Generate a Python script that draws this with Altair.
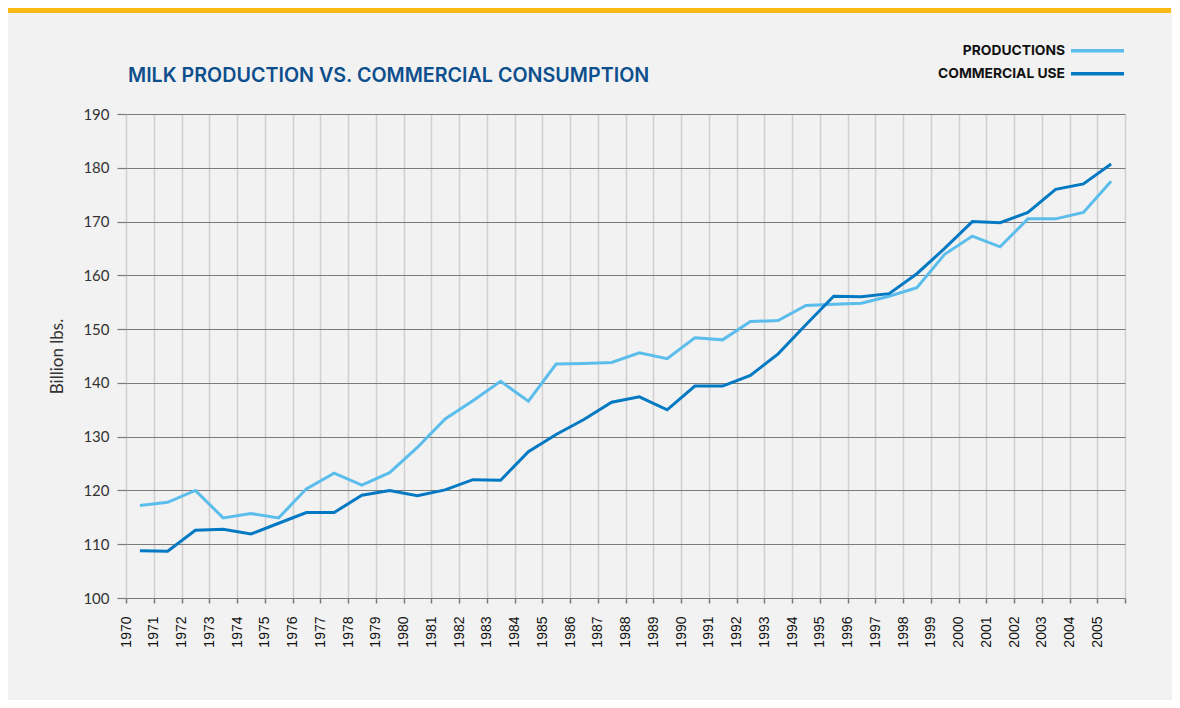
import altair as alt
import pandas as pd

years = list(range(1970, 2006))
productions = [117.2, 117.8, 120.0, 114.9, 115.7, 114.9, 120.3, 123.2, 121.0, 123.3,
               128.0, 133.3, 136.7, 140.3, 136.6, 143.5, 143.6, 143.8, 145.6, 144.5,
               148.4, 148.0, 151.4, 151.6, 154.4, 154.6, 154.8, 156.1, 157.7, 163.9,
               167.3, 165.3, 170.5, 170.5, 171.7, 177.5]
commercial = [108.8, 108.7, 112.6, 112.8, 111.9, 113.9, 115.9, 115.9, 119.1, 120.0,
              119.0, 120.1, 122.0, 121.9, 127.2, 130.4, 133.2, 136.4, 137.4, 135.0,
              139.4, 139.4, 141.4, 145.4, 150.8, 156.1, 156.0, 156.6, 160.3, 165.0,
              170.0, 169.8, 171.7, 176.0, 177.0, 180.7]
series_names = ["PRODUCTIONS", "COMMERCIAL USE"]
series_colors = ["#5bbdec", "#0479c3"]
y_ticks = list(range(100, 200, 10))
x_ticks = years + [years[-1] + 1]

df = pd.DataFrame({
    "year": years * 2,
    "value": productions + commercial,
    "series": [series_names[0]] * len(years) + [series_names[1]] * len(years),
})
legend_df = pd.DataFrame({"series": series_names})

W, H = 999, 484
color_scale = alt.Scale(domain=series_names, range=series_colors)

lines = alt.Chart(df).transform_calculate(
    xpos="datum.year + 0.5"
).mark_line(strokeWidth=3).encode(
    x=alt.X("xpos:Q",
            scale=alt.Scale(domain=[x_ticks[0], x_ticks[-1]], nice=False, zero=False),
            axis=alt.Axis(values=x_ticks, format="d",
                          labelExpr="datum.value > 2005 ? '' : datum.label",
                          labelAngle=270, labelAlign="right", labelBaseline="middle",
                          labelPadding=13, labelFont="Liberation Sans", labelFontSize=14,
                          labelColor="#111111", labelFlush=False, labelOverlap=False,
                          grid=True, gridColor="#d0d0d0", gridWidth=1.5,
                          ticks=True, tickColor="#7a7a7a", tickSize=5, tickWidth=1.5,
                          domain=False, title=None)),
    y=alt.Y("value:Q",
            scale=alt.Scale(domain=[y_ticks[0], y_ticks[-1]], nice=False, zero=False),
            axis=alt.Axis(values=y_ticks, format="d",
                          labelFont="Lato", labelFontSize=15, labelColor="#333333",
                          labelPadding=8,
                          grid=True, gridColor="#7b7b7b", gridWidth=1.2,
                          ticks=True, tickColor="#7b7b7b", tickSize=9, tickWidth=1.2,
                          domain=False,
                          title="Billion lbs.", titleFont="Lato", titleFontSize=17,
                          titleFontWeight="normal", titleColor="#333333",
                          titlePadding=16)),
    color=alt.Color("series:N", scale=color_scale, sort=series_names, legend=None),
    order=alt.Order("year:Q"),
)

# legend drawn as marks: labels right-aligned, line swatches to their right
leg_y = alt.Y("series:N", sort=series_names, axis=None,
              scale=alt.Scale(type="point", domain=series_names, range=[-63.3, -40.3],
                              padding=0))
leg_text = alt.Chart(legend_df).mark_text(
    align="right", baseline="middle", font="Inter", fontWeight="bold",
    fontSize=13.8, color="#111111"
).encode(x=alt.value(939), y=leg_y, text="series:N")
leg_line = alt.Chart(legend_df).mark_rule(strokeWidth=3.5).encode(
    x=alt.value(945), x2=alt.value(998), y=leg_y,
    color=alt.Color("series:N", scale=color_scale, legend=None),
)
legend = alt.layer(leg_text, leg_line)

bar = alt.Chart(alt.Data(values=[{}])).mark_rule(color="#fdb913", strokeWidth=5).encode(
    x=alt.value(-118), x2=alt.value(W + 46), y=alt.value(-103.5)
)

chart = alt.layer(bar, lines, legend).resolve_scale(y="independent").properties(
    width=W, height=H,
    title=alt.TitleParams("MILK PRODUCTION VS. COMMERCIAL CONSUMPTION",
                          anchor="start", frame="group", font="Inter",
                          fontSize=19.7, fontWeight=600, color="#0d4f8d",
                          baseline="alphabetic", offset=32, dy=126, dx=2),
    padding={"left": 118, "top": 106, "right": 47, "bottom": 102},
    autosize=alt.AutoSizeParams(type="none"),
    background="#f2f2f2",
).configure_view(stroke=None)

chart.save("out.html", embed_options={"renderer": "svg", "actions": False})
